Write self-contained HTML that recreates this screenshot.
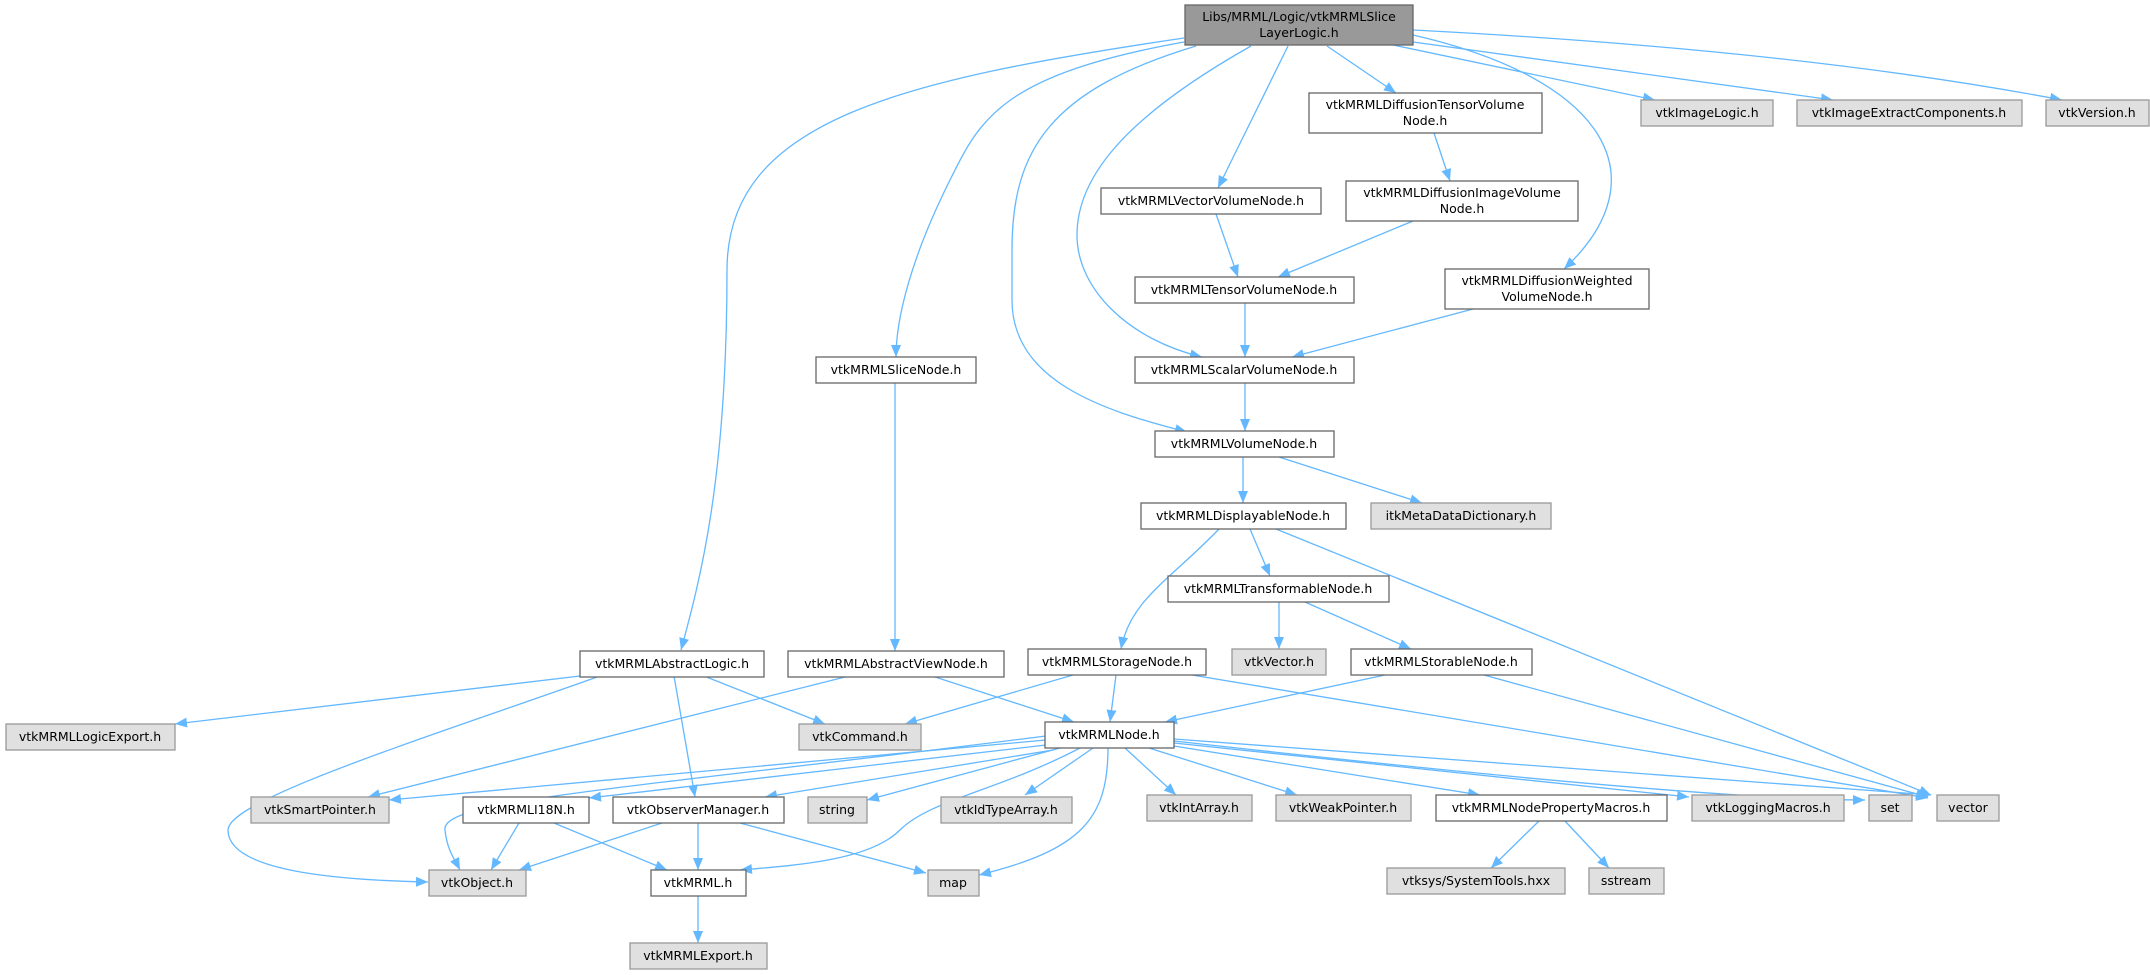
<!DOCTYPE html>
<html><head><meta charset="utf-8"><style>
html,body{margin:0;padding:0;background:#fff;}
svg{display:block;}
text{font-family:"DejaVu Sans","Liberation Sans",sans-serif;font-size:12.5px;fill:#000;}
.w{fill:#fff;stroke:#666;stroke-width:1.3;}
.g{fill:#e0e0e0;stroke:#999;stroke-width:1.3;}
.t{fill:#999;stroke:#666;stroke-width:1.3;}
path.e{fill:none;stroke:#63b8ff;stroke-width:1.3;marker-end:url(#a);}
</style></head><body>
<svg width="2150" height="975" viewBox="0 0 2150 975" xmlns="http://www.w3.org/2000/svg">
<defs><marker id="a" markerUnits="userSpaceOnUse" markerWidth="12" markerHeight="10" refX="12" refY="5" orient="auto"><path d="M0,0 L12,5 L0,10 z" fill="#63b8ff"/></marker></defs>

<!-- edges -->
<path class="e" d="M1393,45 L1655,100"/>
<path class="e" d="M1413,42 L1833,100"/>
<path class="e" d="M1413,30 Q1800,50 2062,100"/>
<path class="e" d="M1327,46 L1396,93"/>
<path class="e" d="M1413,35 C1610,80 1660,180 1564,269"/>
<path class="e" d="M1288,46 L1218,188"/>
<path class="e" d="M1251,46 C1120,120 1077,180 1077,235 C1077,290 1130,340 1202,357"/>
<path class="e" d="M1196,46 C1050,90 1012,150 1012,250 L1012,300 C1012,380 1100,410 1187,432"/>
<path class="e" d="M1184,42 C1000,75 980,120 950,180 C910,260 896,320 896,357"/>
<path class="e" d="M1184,38 C900,80 727,120 727,270 C727,480 700,580 681,650"/>
<path class="e" d="M1434,133 L1450,181"/>
<path class="e" d="M1413,221 L1278,277"/>
<path class="e" d="M1216,214 L1238,277"/>
<path class="e" d="M1245,302 L1245,357"/>
<path class="e" d="M1473,309 L1292,357"/>
<path class="e" d="M1245,383 L1245,431"/>
<path class="e" d="M1243,457 L1243,503"/>
<path class="e" d="M1279,457 L1422,503"/>
<path class="e" d="M1250,529 L1270,576"/>
<path class="e" d="M1219,529 C1170,580 1130,600 1121,649"/>
<path class="e" d="M1276,529 L1931,795"/>
<path class="e" d="M1279,602 L1279,649"/>
<path class="e" d="M1305,602 L1411,649"/>
<path class="e" d="M1385,675 L1165,722"/>
<path class="e" d="M1484,675 L1928,797"/>
<path class="e" d="M1116,675 L1110,722"/>
<path class="e" d="M1073,675 L905,724"/>
<path class="e" d="M1192,675 L1928,798"/>
<path class="e" d="M895,383 L895,651"/>
<path class="e" d="M849,676 L368,797"/>
<path class="e" d="M932,676 L1074,722"/>
<path class="e" d="M580,676 L175,724"/>
<path class="e" d="M704,676 L825,724"/>
<path class="e" d="M674,676 L695,797"/>
<path class="e" d="M600,676 C420,740 228,800 228,830 C228,870 330,880 428,882"/>
<path class="e" d="M1046,740 L389,800"/>
<path class="e" d="M1046,736 C620,790 440,800 445,830 C447,850 455,860 460,870"/>
<path class="e" d="M1046,745 L589,798"/>
<path class="e" d="M1053,750 L765,797"/>
<path class="e" d="M1060,748 L867,800"/>
<path class="e" d="M1093,748 L1025,795"/>
<path class="e" d="M1080,748 C1000,790 930,800 900,830 C870,860 800,865 740,870"/>
<path class="e" d="M1108,748 C1108,820 1080,850 979,875"/>
<path class="e" d="M1125,748 L1176,795"/>
<path class="e" d="M1149,748 L1297,795"/>
<path class="e" d="M1174,746 L1480,795"/>
<path class="e" d="M1174,743 L1689,797"/>
<path class="e" d="M1174,741 Q1700,800 1865,800"/>
<path class="e" d="M1174,739 L1931,795"/>
<path class="e" d="M1539,821 L1491,868"/>
<path class="e" d="M1565,821 L1609,868"/>
<path class="e" d="M519,823 L491,870"/>
<path class="e" d="M554,823 L667,870"/>
<path class="e" d="M662,823 L519,870"/>
<path class="e" d="M698,823 L698,870"/>
<path class="e" d="M740,823 L926,873"/>
<path class="e" d="M698,896 L698,943"/>

<!-- nodes -->
<rect class="t" x="1185" y="5" width="228" height="40"/>
<text x="1299" y="21" text-anchor="middle">Libs/MRML/Logic/vtkMRMLSlice</text>
<text x="1299" y="37" text-anchor="middle">LayerLogic.h</text>

<rect class="g" x="1641" y="100" width="132" height="26"/><text x="1707" y="117" text-anchor="middle">vtkImageLogic.h</text>
<rect class="g" x="1797" y="100" width="225" height="26"/><text x="1909" y="117" text-anchor="middle">vtkImageExtractComponents.h</text>
<rect class="g" x="2046" y="100" width="103" height="26"/><text x="2097" y="117" text-anchor="middle">vtkVersion.h</text>

<rect class="w" x="1309" y="93" width="233" height="40"/>
<text x="1425" y="109" text-anchor="middle">vtkMRMLDiffusionTensorVolume</text>
<text x="1425" y="125" text-anchor="middle">Node.h</text>

<rect class="w" x="1101" y="188" width="220" height="26"/><text x="1211" y="205" text-anchor="middle">vtkMRMLVectorVolumeNode.h</text>
<rect class="w" x="1346" y="181" width="232" height="40"/>
<text x="1462" y="197" text-anchor="middle">vtkMRMLDiffusionImageVolume</text>
<text x="1462" y="213" text-anchor="middle">Node.h</text>

<rect class="w" x="1135" y="277" width="219" height="26"/><text x="1244" y="294" text-anchor="middle">vtkMRMLTensorVolumeNode.h</text>
<rect class="w" x="1445" y="269" width="204" height="40"/>
<text x="1547" y="285" text-anchor="middle">vtkMRMLDiffusionWeighted</text>
<text x="1547" y="301" text-anchor="middle">VolumeNode.h</text>

<rect class="w" x="1135" y="357" width="219" height="26"/><text x="1244" y="374" text-anchor="middle">vtkMRMLScalarVolumeNode.h</text>
<rect class="w" x="816" y="357" width="160" height="26"/><text x="896" y="374" text-anchor="middle">vtkMRMLSliceNode.h</text>

<rect class="w" x="1155" y="431" width="179" height="26"/><text x="1244" y="448" text-anchor="middle">vtkMRMLVolumeNode.h</text>

<rect class="w" x="1141" y="503" width="205" height="26"/><text x="1243" y="520" text-anchor="middle">vtkMRMLDisplayableNode.h</text>
<rect class="g" x="1371" y="503" width="180" height="26"/><text x="1461" y="520" text-anchor="middle">itkMetaDataDictionary.h</text>

<rect class="w" x="1168" y="576" width="221" height="26"/><text x="1278" y="593" text-anchor="middle">vtkMRMLTransformableNode.h</text>

<rect class="w" x="1028" y="649" width="178" height="26"/><text x="1117" y="666" text-anchor="middle">vtkMRMLStorageNode.h</text>
<rect class="g" x="1232" y="649" width="94" height="26"/><text x="1279" y="666" text-anchor="middle">vtkVector.h</text>
<rect class="w" x="1351" y="649" width="181" height="26"/><text x="1441" y="666" text-anchor="middle">vtkMRMLStorableNode.h</text>
<rect class="w" x="580" y="651" width="184" height="26"/><text x="672" y="668" text-anchor="middle">vtkMRMLAbstractLogic.h</text>
<rect class="w" x="788" y="651" width="216" height="26"/><text x="896" y="668" text-anchor="middle">vtkMRMLAbstractViewNode.h</text>

<rect class="g" x="6" y="724" width="169" height="26"/><text x="90" y="741" text-anchor="middle">vtkMRMLLogicExport.h</text>
<rect class="g" x="799" y="724" width="122" height="26"/><text x="860" y="741" text-anchor="middle">vtkCommand.h</text>
<rect class="w" x="1045" y="722" width="129" height="26"/><text x="1109" y="739" text-anchor="middle">vtkMRMLNode.h</text>

<rect class="g" x="251" y="797" width="138" height="26"/><text x="320" y="814" text-anchor="middle">vtkSmartPointer.h</text>
<rect class="w" x="463" y="797" width="126" height="26"/><text x="526" y="814" text-anchor="middle">vtkMRMLI18N.h</text>
<rect class="w" x="613" y="797" width="171" height="26"/><text x="698" y="814" text-anchor="middle">vtkObserverManager.h</text>
<rect class="g" x="808" y="797" width="59" height="26"/><text x="837" y="814" text-anchor="middle">string</text>
<rect class="g" x="941" y="797" width="131" height="26"/><text x="1006" y="814" text-anchor="middle">vtkIdTypeArray.h</text>
<rect class="g" x="1147" y="795" width="105" height="26"/><text x="1199" y="812" text-anchor="middle">vtkIntArray.h</text>
<rect class="g" x="1276" y="795" width="135" height="26"/><text x="1343" y="812" text-anchor="middle">vtkWeakPointer.h</text>
<rect class="w" x="1436" y="795" width="231" height="26"/><text x="1551" y="812" text-anchor="middle">vtkMRMLNodePropertyMacros.h</text>
<rect class="g" x="1692" y="795" width="152" height="26"/><text x="1768" y="812" text-anchor="middle">vtkLoggingMacros.h</text>
<rect class="g" x="1869" y="795" width="43" height="26"/><text x="1890" y="812" text-anchor="middle">set</text>
<rect class="g" x="1937" y="795" width="62" height="26"/><text x="1968" y="812" text-anchor="middle">vector</text>

<rect class="g" x="429" y="870" width="97" height="26"/><text x="477" y="887" text-anchor="middle">vtkObject.h</text>
<rect class="w" x="651" y="870" width="95" height="26"/><text x="698" y="887" text-anchor="middle">vtkMRML.h</text>
<rect class="g" x="928" y="870" width="51" height="26"/><text x="953" y="887" text-anchor="middle">map</text>
<rect class="g" x="1387" y="868" width="178" height="26"/><text x="1476" y="885" text-anchor="middle">vtksys/SystemTools.hxx</text>
<rect class="g" x="1589" y="868" width="75" height="26"/><text x="1626" y="885" text-anchor="middle">sstream</text>

<rect class="g" x="630" y="943" width="137" height="26"/><text x="698" y="960" text-anchor="middle">vtkMRMLExport.h</text>
</svg>
</body></html>
